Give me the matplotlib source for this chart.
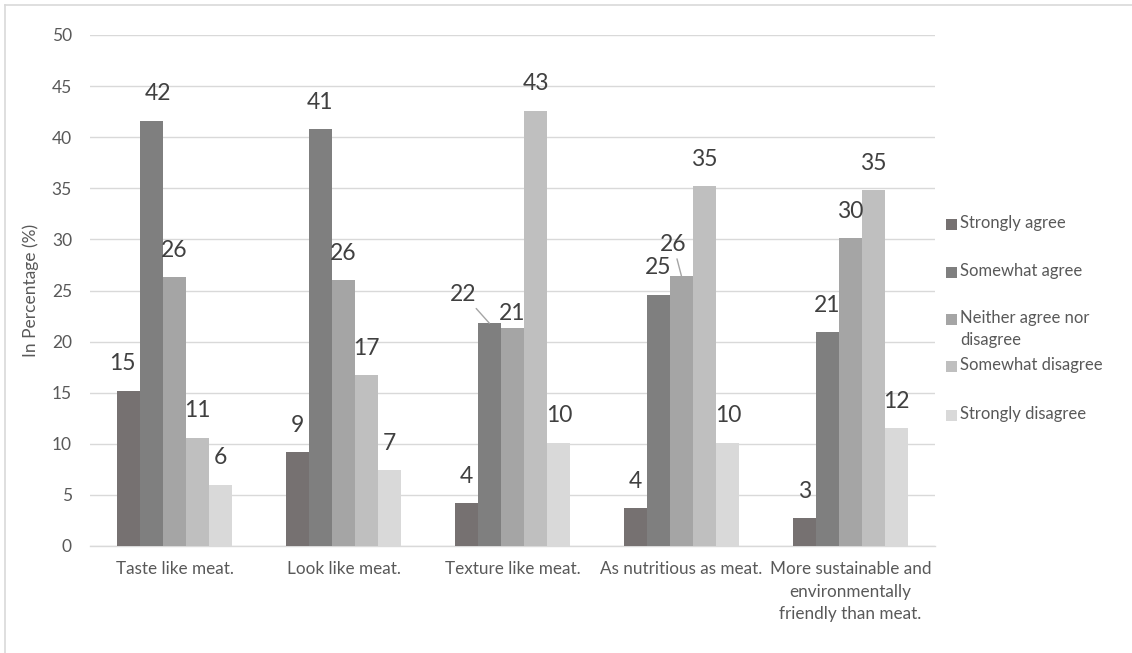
import matplotlib
matplotlib.use("Agg")
import matplotlib.pyplot as plt
from matplotlib.patches import Rectangle
from matplotlib.lines import Line2D
import numpy as np

plt.rcParams['font.family'] = ['Lato', 'DejaVu Sans']

categories = ["Taste like meat.", "Look like meat.", "Texture like meat.",
              "As nutritious as meat.",
              "More sustainable and\nenvironmentally\nfriendly than meat."]
series_names = ["Strongly agree", "Somewhat agree", "Neither agree nor\ndisagree",
                "Somewhat disagree", "Strongly disagree"]
strongly_agree = [15.2, 9.2, 4.2, 3.7, 2.7]
somewhat_agree = [41.6, 40.8, 21.8, 24.6, 20.9]
neither = [26.3, 26.0, 21.3, 26.4, 30.1]
somewhat_disagree = [10.6, 16.7, 42.6, 35.2, 34.8]
strongly_disagree = [6.0, 7.4, 10.1, 10.1, 11.5]
series_values = [strongly_agree, somewhat_agree, neither, somewhat_disagree, strongly_disagree]
y_ticks = [0, 5, 10, 15, 20, 25, 30, 35, 40, 45, 50]

colors = ["#767171", "#7F7F7F", "#A5A5A5", "#BFBFBF", "#D9D9D9"]

W, H = 1132, 653
fig = plt.figure(figsize=(W / 100, H / 100), dpi=100)
ax = fig.add_axes([90 / W, 1 - 546 / H, (935 - 90) / W, (546 - 35) / H])

x = np.arange(len(categories))
bw = 0.137
default_dy = 19.4
special = {(0, 0): (-4.3, default_dy), (0, 1): (4.5, default_dy),
           (2, 1): (-18.7, 20.9), (2, 2): (0, 10.5), (3, 2): (-6.0, 23.0)}
leaders = {(2, 1), (3, 2)}

for si, (vals, col) in enumerate(zip(series_values, colors)):
    xs = x + (si - 2) * bw
    ax.bar(xs, vals, width=bw, color=col, edgecolor="none", zorder=3)
    for ci, (xx, v) in enumerate(zip(xs, vals)):
        dx, dy = special.get((ci, si), (0, default_dy))
        kw = {}
        if (ci, si) in leaders:
            kw['arrowprops'] = dict(arrowstyle='-', color='#A5A5A5', lw=1.0,
                                    shrinkA=1, shrinkB=0)
        ax.annotate(f"{int(v + 0.5)}", xy=(xx, v), xytext=(dx, dy),
                    textcoords='offset points', ha='center', va='center',
                    fontsize=16.5, color='#404040', zorder=4, **kw)

ax.set_xlim(-0.5, len(categories) - 0.5)
ax.set_ylim(0, 50)
ax.set_yticks(y_ticks)
ax.set_xticks(x)
ax.set_xticklabels(categories, fontsize=12.3, color='#595959', linespacing=1.5)
ax.tick_params(axis='y', length=0, pad=13, labelsize=12.5, labelcolor='#595959')
ax.tick_params(axis='x', length=0, pad=11)
ax.grid(axis='y', color='#D9D9D9', lw=1.0, zorder=0)
for s in ['top', 'right', 'left']:
    ax.spines[s].set_visible(False)
ax.spines['bottom'].set_color('#D9D9D9')
ax.spines['bottom'].set_linewidth(1.0)
ax.set_ylabel("In Percentage (%)", fontsize=12.5, color='#595959', labelpad=9)

slots = [225, 273, 320, 367, 416]
for name, col, sy in zip(series_names, colors, slots):
    fig.patches.append(Rectangle((946 / W, 1 - (sy + 5) / H), 11 / W, 11 / H,
                                 transform=fig.transFigure, facecolor=col,
                                 edgecolor='none'))
    fig.text(960 / W, 1 - (sy - 10) / H, name, ha='left', va='top',
             fontsize=12, color='#595959', linespacing=1.5)

fig.lines.append(Line2D([5 / W, 5 / W], [0, 1 - 5 / H], transform=fig.transFigure,
                        color='#D9D9D9', lw=1.2))
fig.lines.append(Line2D([5 / W, 1], [1 - 5 / H, 1 - 5 / H], transform=fig.transFigure,
                        color='#D9D9D9', lw=1.2))

fig.savefig("out.png", dpi=100)
